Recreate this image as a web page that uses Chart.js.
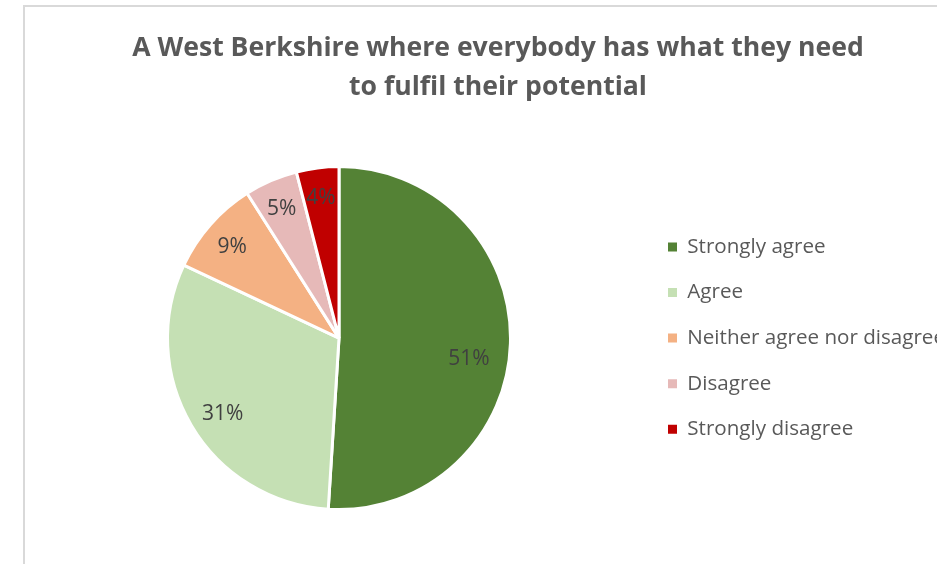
<!DOCTYPE html>
<html>
<head>
<meta charset="utf-8">
<script src="https://cdn.jsdelivr.net/npm/chart.js@4"></script>
<style>
  html, body { margin: 0; padding: 0; background: #fff; overflow: hidden; }
  #frame {
    position: absolute; left: 23px; top: 5px; width: 1000px; height: 600px;
    border-left: 2px solid #d9d9d9; border-top: 2px solid #d9d9d9;
  }
  #wrap { position: absolute; left: 0; top: 0; width: 961px; height: 564px; }
</style>
</head>
<body>
<div id="frame"></div>
<div id="wrap"><canvas id="pieChart"></canvas></div>
<script>
const categories = ['Strongly agree', 'Agree', 'Neither agree nor disagree', 'Disagree', 'Strongly disagree'];
const shares = [51, 31, 9, 5, 4];
const sliceColours = ['#548235', '#c5e0b4', '#f4b183', '#e6b9b8', '#c00000'];
const titleLines = ['A West Berkshire where everybody has what they need', 'to fulfil their potential'];

const FONT = "'Open Sans', sans-serif";

// percentage labels inside each slice
const sliceLabels = {
    id: 'sliceLabels',
    afterDatasetsDraw(chart, args, opts) {
        const ctx = chart.ctx;
        const meta = chart.getDatasetMeta(0);
        ctx.save();
        ctx.font = opts.size + 'px ' + FONT;
        ctx.fillStyle = opts.color;
        ctx.textAlign = 'center';
        ctx.textBaseline = 'middle';
        meta.data.forEach(function (arc, i) {
            const p = arc.getProps(['x', 'y', 'startAngle', 'endAngle', 'outerRadius'], true);
            const mid = (p.startAngle + p.endAngle) / 2 + opts.shift[i] * Math.PI / 180;
            const r = p.outerRadius * opts.radius[i];
            ctx.fillText(shares[i] + '%', p.x + Math.cos(mid) * r, p.y + Math.sin(mid) * r + 3);
        });
        ctx.restore();
    }
};

// keep the legend column a fixed width so the pie sits left of it
const legendWidth = {
    id: 'legendWidth',
    beforeInit(chart) {
        const fit = chart.legend.fit;
        chart.legend.fit = function () {
            fit.call(this);
            this.width = 318;
        };
    }
};

const ctx = document.getElementById('pieChart').getContext('2d');
new Chart(ctx, {
    type: 'pie',
    data: {
        labels: categories,
        datasets: [{
            data: shares,
            backgroundColor: sliceColours,
            borderColor: '#ffffff',
            borderWidth: 3,
            radius: 171.5
        }]
    },
    options: {
        responsive: true,
        maintainAspectRatio: false,
        animation: false,
        layout: { padding: { left: 35, right: 0, top: 0, bottom: 56 } },
        plugins: {
            title: {
                display: true,
                text: titleLines,
                color: '#595959',
                font: { family: FONT, size: 26.6, weight: 'bold', lineHeight: 1.47 },
                padding: { top: 29, bottom: 61 }
            },
            legend: {
                position: 'right',
                fullSize: false,
                labels: {
                    boxWidth: 9,
                    boxHeight: 9,
                    padding: 25,
                    color: '#595959',
                    font: { family: FONT, size: 20.6 },
                    generateLabels(chart) {
                        const items = Chart.overrides.pie.plugins.legend.labels.generateLabels(chart);
                        items.forEach(function (item) { item.lineWidth = 0; });
                        return items;
                    }
                }
            },
            tooltip: { enabled: false },
            sliceLabels: {
                size: 21,
                color: '#404040',
                radius: [0.765, 0.8, 0.83, 0.84, 0.84],
                shift: [6, -1.5, 0, 0, 0]
            }
        }
    },
    plugins: [sliceLabels, legendWidth]
});
</script>
</body>
</html>
